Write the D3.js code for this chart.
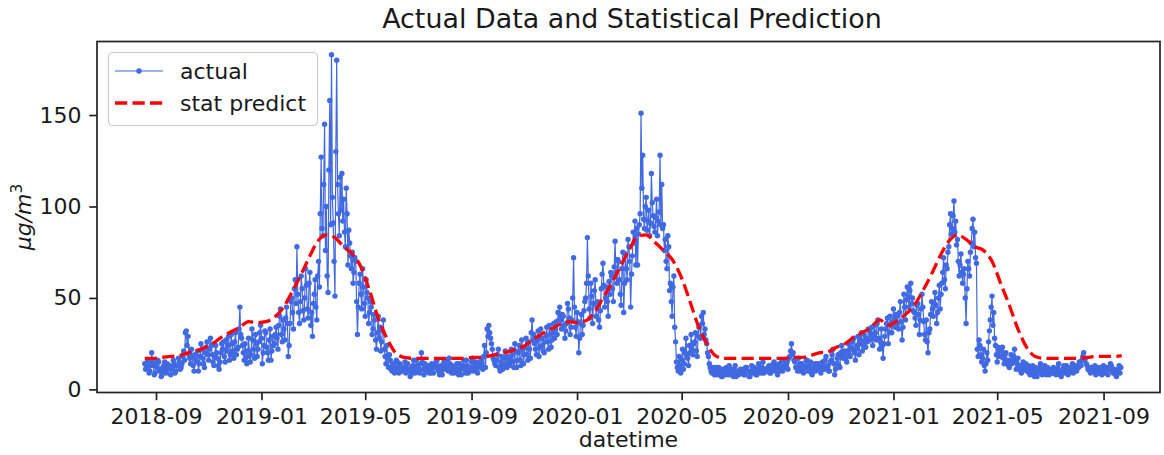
<!DOCTYPE html>
<html>
<head>
<meta charset="utf-8">
<script src="https://cdn.jsdelivr.net/npm/d3@7"></script>
<style>
  body { margin: 0; background: #fff; }
  svg { display: block; }
  text { font-family: "DejaVu Sans", sans-serif; fill: #1a1a1a; }
</style>
</head>
<body>
<svg id="chart" width="1164" height="455"></svg>
<script>
// Daily PM concentration starting 2018-08-19 (µg/m³), 30 days per row
const actualStart = "2018-08-19";
const actualStepDays = 1;
const actual = [
  14,11,12,15,16,9,10,13,20,15,13,8,9,14,12,16,15,10,11,7,8,12,13,15,10,9,14,11,12,13,
  8,12,11,16,14,9,10,13,13,17,15,11,12,14,18,21,16,31,32,24,29,19,17,14,22,18,13,10,19,16,
  15,21,10,14,18,25,22,17,14,12,20,23,26,19,16,22,28,24,19,15,13,18,24,20,17,13,11,15,20,25,
  22,26,18,15,27,21,24,29,16,19,30,25,21,17,26,31,19,22,23,33,45,30,28,24,20,16,25,21,14,18,
  28,21,15,19,33,27,22,17,30,25,18,22,26,31,35,28,14,20,24,32,31,23,20,16,27,33,16,21,29,24,
  25,30,34,28,22,35,40,44,30,26,38,33,27,39,45,36,18,24,36,48,50,42,33,55,60,47,78,52,42,36,
  48,62,55,43,38,50,66,57,44,39,58,64,35,42,29,47,52,60,45,38,62,70,56,96,127,88,84,112,145,76,
  100,62,53,120,158,90,183,105,91,70,51,130,180,112,96,84,116,98,118,92,104,86,78,110,96,68,87,80,73,66,
  75,58,64,72,70,48,30,45,58,63,52,44,66,56,47,40,60,53,50,36,42,48,45,30,33,41,38,27,22,31,
  40,28,34,21,26,32,38,22,18,14,24,17,12,19,16,11,10,13,14,9,11,16,15,12,9,14,13,10,10,12,
  12,15,9,11,14,10,11,7,8,12,13,16,10,9,16,13,12,10,9,14,20,15,11,8,14,12,10,13,13,9,
  11,9,14,12,9,13,12,15,16,11,10,8,13,10,8,12,15,13,11,16,12,10,17,14,10,9,13,11,9,12,
  12,14,10,8,14,11,8,12,13,16,11,9,16,13,9,11,12,10,15,17,10,12,13,15,11,9,14,12,12,16,
  14,11,18,24,12,20,33,29,35,31,28,25,22,17,16,14,13,16,19,22,12,10,15,18,11,13,17,21,14,12,
  18,15,13,17,22,19,15,12,25,21,12,16,20,24,16,13,27,22,14,19,23,28,19,16,26,22,17,31,38,27,
  30,25,22,19,27,32,18,23,33,28,24,21,20,26,29,34,26,22,35,30,23,27,31,36,28,33,37,30,42,38,
  45,38,33,41,40,35,28,32,36,47,44,39,30,34,38,50,72,45,34,29,42,37,20,28,36,41,30,35,43,48,
  50,58,83,62,44,39,58,51,36,47,54,60,40,45,48,38,34,43,55,63,69,57,45,50,56,48,40,59,52,64,
  62,55,48,67,81,64,58,71,70,60,52,46,66,75,42,58,74,66,60,82,78,70,45,63,73,86,80,92,68,88,
  68,85,90,96,151,110,128,93,88,100,105,87,92,98,84,91,118,102,95,89,86,94,104,84,92,97,128,90,112,88,
  90,76,82,70,66,84,78,54,58,48,40,56,62,34,26,15,12,10,18,13,9,16,22,11,14,20,28,19,17,13,
  24,20,30,22,19,25,26,31,21,18,29,34,35,28,40,36,42,30,33,27,25,20,18,14,12,10,9,12,11,8,
  10,12,8,9,12,10,9,7,7,11,11,9,8,12,10,8,13,10,8,11,9,7,11,13,7,9,10,8,9,11,
  9,10,11,8,8,12,12,10,10,7,7,9,13,11,9,12,11,8,8,10,14,12,10,9,12,15,9,11,11,10,
  10,12,13,9,9,11,12,14,15,10,11,13,8,12,14,10,12,16,10,13,16,12,13,15,11,17,18,21,25,19,
  20,16,15,12,12,10,17,13,10,14,14,11,9,12,13,16,16,10,11,13,15,9,8,11,12,14,10,12,14,11,
  12,14,9,11,15,13,11,16,18,12,13,10,10,15,16,19,22,14,8,11,14,17,19,13,12,20,24,18,17,21,
  20,17,15,21,25,19,18,23,22,26,28,20,16,22,24,29,19,25,27,31,21,24,30,26,23,28,26,33,32,27,
  30,34,24,29,35,31,27,36,38,28,22,26,33,24,17,25,29,33,36,39,25,31,40,35,31,37,44,38,34,41,
  40,36,33,42,48,37,27,34,52,45,38,49,56,51,45,54,58,47,50,43,42,39,35,46,47,41,30,38,44,52,
  45,37,30,27,38,26,20,31,33,41,48,44,40,47,53,46,36,42,50,57,44,52,58,64,72,60,55,68,66,75,
  78,90,96,85,88,95,103,86,92,79,82,70,62,68,74,64,58,63,66,50,36,55,70,66,62,75,80,88,93,78,
  86,72,69,22,18,27,24,19,15,17,22,13,10,14,20,16,26,32,38,45,51,35,42,28,24,19,15,23,21,18,
  18,21,23,17,14,19,20,15,16,13,12,16,19,14,15,18,22,16,11,14,17,12,13,10,9,13,15,11,12,14,
  10,12,13,9,8,11,11,13,9,7,12,10,7,9,10,12,14,11,8,10,11,13,9,8,12,10,8,11,10,9,
  9,12,11,10,8,9,12,14,10,8,7,10,11,13,9,11,13,10,8,9,10,12,12,14,9,11,11,13,10,12,
  12,15,14,13,16,18,20,16,17,14,13,11,11,10,9,12,12,10,10,13,8,9,11,12,9,11,12,8,10,13,
  9,11,12,10,8,12,11,14,13,10,9,11,10,8,7,10,11,13,9,12
];

// Statistical (seasonal) prediction, one value every 10 days starting 2018-08-19
const predictStart = "2018-08-19";
const predictStepDays = 10;
const predict = [
  17,17,17.5,18,18.5,20,21,23,25.5,29,31.5,34,37,36.5,37,39.5,44.5,53,62,72,
  81,84.5,83,78,74,67,54,39,28,20,17.5,17,17,17,17,17,17,
  17,17.5,17.5,18.5,19.5,20.5,22,24,27.5,30.5,33,35.5,37,36.5,37.5,42,50,58,67,76,
  83.5,84.5,80.5,76,71,62,49,35,25,18.5,17,17,17,17,17,17,17,
  17,17.5,17.5,18.5,20,20.5,23,25,28.5,31,34,38,35,37.5,41,46,54,63,73,81,
  84.5,82,78,76,70,58,46,33,23,18,17,17,17,17,17,17.5,18,18,18,18.5
];

const xTickLabels = ["2018-09","2019-01","2019-05","2019-09","2020-01","2020-05",
                     "2020-09","2021-01","2021-05","2021-09"];
const yTicks = [0, 50, 100, 150];
const seriesNames = ["actual", "stat predict"];
const titleText = "Actual Data and Statistical Prediction";
const xLabelText = "datetime";

const svg = d3.select("#chart");
const plot = { left: 97, right: 1160, top: 41.5, bottom: 392.5 };

const parseDay = d3.utcParse("%Y-%m-%d");
const parseMonth = d3.utcParse("%Y-%m");

const actualData = actual.map((v, i) => ({
  date: d3.utcDay.offset(parseDay(actualStart), i * actualStepDays), value: v
}));
const predictData = predict.map((v, i) => ({
  date: d3.utcDay.offset(parseDay(predictStart), i * predictStepDays), value: v
}));

const x = d3.scaleUtc()
  .domain([new Date(Date.UTC(2018, 5, 24, 18)), new Date(Date.UTC(2021, 10, 5, 7))])
  .range([plot.left, plot.right]);
const y = d3.scaleLinear()
  .domain([-1.7, 190.2])
  .range([plot.bottom, plot.top]);

const fontSize = 22;

// plot area clip
svg.append("defs").append("clipPath").attr("id", "plotClip")
  .append("rect")
  .attr("x", plot.left).attr("y", plot.top)
  .attr("width", plot.right - plot.left).attr("height", plot.bottom - plot.top);

const marks = svg.append("g").attr("clip-path", "url(#plotClip)");

// actual series: thin line with dot markers
const blue = "#4169e1";
const markerR = 2.7;
marks.append("path")
  .datum(actualData)
  .attr("fill", "none")
  .attr("stroke", blue)
  .attr("stroke-width", 1.2)
  .attr("stroke-linejoin", "round")
  .attr("d", d3.line().x(d => x(d.date)).y(d => y(d.value)));

marks.append("g")
  .selectAll("circle")
  .data(actualData)
  .join("circle")
  .attr("cx", d => x(d.date))
  .attr("cy", d => y(d.value))
  .attr("r", markerR)
  .attr("fill", blue);

// prediction: red dashed
marks.append("path")
  .datum(predictData)
  .attr("fill", "none")
  .attr("stroke", "#ff0000")
  .attr("stroke-width", 3.3)
  .attr("stroke-dasharray", "12.2 5.3")
  .attr("d", d3.line().curve(d3.curveMonotoneX).x(d => x(d.date)).y(d => y(d.value)));

// axes
const xAxis = d3.axisBottom(x)
  .tickValues(xTickLabels.map(s => parseMonth(s)))
  .tickFormat(d3.utcFormat("%Y-%m"))
  .tickSize(7.7).tickPadding(7.7);
const gx = svg.append("g").attr("transform", `translate(0,${plot.bottom})`).call(xAxis);

const yAxis = d3.axisLeft(y)
  .tickValues(yTicks)
  .tickFormat(d3.format("d"))
  .tickSize(7.7).tickPadding(7.7);
const gy = svg.append("g").attr("transform", `translate(${plot.left},0)`).call(yAxis);

[gx, gy].forEach(g => {
  g.select(".domain").remove();
  g.selectAll(".tick line").attr("stroke", "#222").attr("stroke-width", 1.7);
  g.selectAll(".tick text").attr("font-size", fontSize)
    .attr("font-family", "'DejaVu Sans', sans-serif").attr("fill", "#1a1a1a");
});

// frame
svg.append("rect")
  .attr("x", plot.left).attr("y", plot.top)
  .attr("width", plot.right - plot.left).attr("height", plot.bottom - plot.top)
  .attr("fill", "none").attr("stroke", "#222").attr("stroke-width", 1.7);

// title
svg.append("text")
  .attr("x", 632).attr("y", 28)
  .attr("text-anchor", "middle").attr("font-size", 26.9)
  .text(titleText);

// x label
svg.append("text")
  .attr("x", (plot.left + plot.right) / 2).attr("y", 447)
  .attr("text-anchor", "middle").attr("font-size", fontSize)
  .text(xLabelText);

// y label: µg/m³ in math italic
const yl = svg.append("text")
  .attr("transform", `translate(31,${(plot.top + plot.bottom) / 2}) rotate(-90)`)
  .attr("text-anchor", "middle").attr("font-size", fontSize)
  .attr("font-style", "italic");
yl.append("tspan").text("μg/m");
yl.append("tspan").attr("font-style", "normal").attr("font-size", 15.4)
  .attr("dy", -9).text("3");

// legend
const lg = svg.append("g");
lg.append("rect")
  .attr("x", 108.5).attr("y", 52.5).attr("width", 209).attr("height", 73)
  .attr("rx", 4).attr("fill", "#fff").attr("fill-opacity", 0.8)
  .attr("stroke", "#cccccc").attr("stroke-width", 1.2);
lg.append("line").attr("x1", 115).attr("x2", 163).attr("y1", 71).attr("y2", 71)
  .attr("stroke", blue).attr("stroke-width", 1.2);
lg.append("circle").attr("cx", 139).attr("cy", 71).attr("r", markerR).attr("fill", blue);
lg.append("line").attr("x1", 115).attr("x2", 163).attr("y1", 103).attr("y2", 103)
  .attr("stroke", "#ff0000").attr("stroke-width", 3.3).attr("stroke-dasharray", "12.2 5.3");
lg.selectAll("text.lbl")
  .data(seriesNames)
  .join("text")
  .attr("class", "lbl")
  .attr("x", 180).attr("y", (d, i) => 79 + i * 32)
  .attr("font-size", fontSize)
  .text(d => d);
</script>
</body>
</html>
